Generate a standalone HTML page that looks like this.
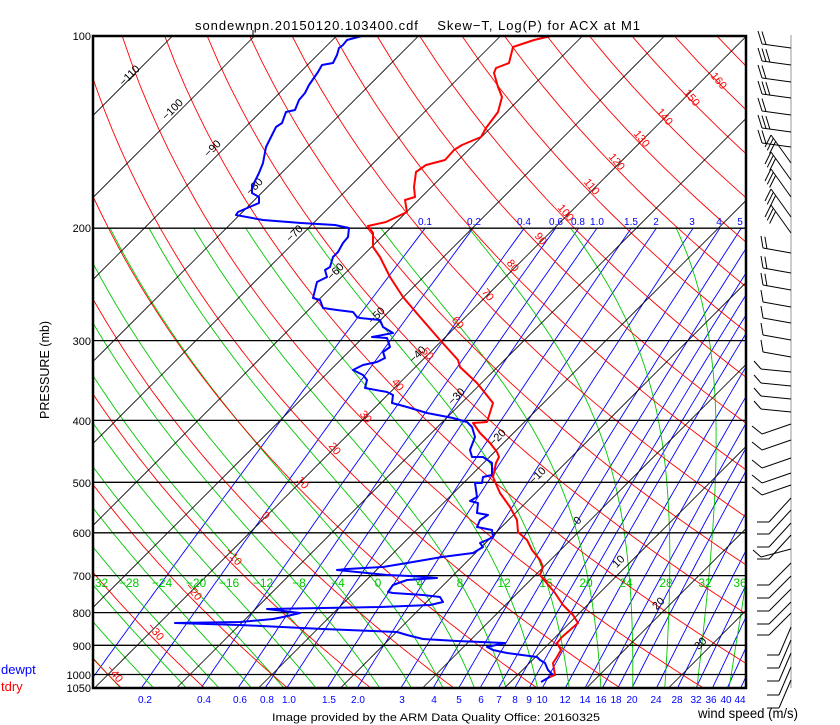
<!DOCTYPE html>
<html><head><meta charset="utf-8">
<style>
html,body{margin:0;padding:0;background:#fff;}
svg{display:block;}
text{font-family:"Liberation Sans",sans-serif;}
</style></head>
<body>
<svg id="s" width="840" height="725" viewBox="0 0 840 725" xmlns="http://www.w3.org/2000/svg">
<defs><clipPath id="cp"><rect x="93" y="36" width="653" height="652"/></clipPath></defs>
<rect width="840" height="725" fill="#fff"/>
<g id="lines" clip-path="url(#cp)"></g>
<g id="labels" clip-path="url(#cp)">
<g font-size="11" fill="#000">
<text transform="translate(132,78) rotate(-45)" text-anchor="middle">−110</text>
<text transform="translate(175,112) rotate(-45)" text-anchor="middle">−100</text>
<text transform="translate(215,151) rotate(-45)" text-anchor="middle">−90</text>
<text transform="translate(257,189) rotate(-45)" text-anchor="middle">−80</text>
<text transform="translate(297,236) rotate(-45)" text-anchor="middle">−70</text>
<text transform="translate(338,274) rotate(-45)" text-anchor="middle">−60</text>
<text transform="translate(379,318) rotate(-45)" text-anchor="middle">−50</text>
<text transform="translate(420,357) rotate(-45)" text-anchor="middle">−40</text>
<text transform="translate(459,399) rotate(-45)" text-anchor="middle">−30</text>
<text transform="translate(500,440) rotate(-45)" text-anchor="middle">−20</text>
<text transform="translate(540,478) rotate(-45)" text-anchor="middle">−10</text>
<text transform="translate(580,523) rotate(-45)" text-anchor="middle">0</text>
<text transform="translate(621,564) rotate(-45)" text-anchor="middle">10</text>
<text transform="translate(661,606) rotate(-45)" text-anchor="middle">20</text>
<text transform="translate(703,646) rotate(-45)" text-anchor="middle">30</text>
</g>
<g font-size="11" fill="#f00">
<text transform="translate(716,83) rotate(50)" text-anchor="middle">160</text>
<text transform="translate(689,100) rotate(50)" text-anchor="middle">150</text>
<text transform="translate(662,119) rotate(50)" text-anchor="middle">140</text>
<text transform="translate(639,141) rotate(50)" text-anchor="middle">130</text>
<text transform="translate(614,164) rotate(50)" text-anchor="middle">120</text>
<text transform="translate(589,189) rotate(50)" text-anchor="middle">110</text>
<text transform="translate(563,215) rotate(50)" text-anchor="middle">100</text>
<text transform="translate(538,241) rotate(50)" text-anchor="middle">90</text>
<text transform="translate(510,268) rotate(50)" text-anchor="middle">80</text>
<text transform="translate(485,297) rotate(50)" text-anchor="middle">70</text>
<text transform="translate(455,325) rotate(50)" text-anchor="middle">60</text>
<text transform="translate(425,356) rotate(50)" text-anchor="middle">50</text>
<text transform="translate(395,387) rotate(50)" text-anchor="middle">40</text>
<text transform="translate(363,419) rotate(50)" text-anchor="middle">30</text>
<text transform="translate(332,451) rotate(50)" text-anchor="middle">20</text>
<text transform="translate(300,485) rotate(50)" text-anchor="middle">10</text>
<text transform="translate(263,518) rotate(50)" text-anchor="middle">0</text>
<text transform="translate(231,559) rotate(50)" text-anchor="middle">−10</text>
<text transform="translate(191,594) rotate(50)" text-anchor="middle">−20</text>
<text transform="translate(153,634) rotate(50)" text-anchor="middle">−30</text>
<text transform="translate(112,676) rotate(50)" text-anchor="middle">−40</text>
</g>
<g font-size="12" fill="#00c800" text-anchor="middle">
<text x="98" y="587">−32</text><text x="129" y="587">−28</text><text x="162" y="587">−24</text>
<text x="196" y="587">−20</text><text x="229" y="587">−16</text><text x="263" y="587">−12</text>
<text x="299" y="587">−8</text><text x="338" y="587">−4</text><text x="378" y="587">0</text>
<text x="420" y="587">4</text><text x="460" y="587">8</text><text x="504" y="587">12</text>
<text x="546" y="587">16</text><text x="586" y="587">20</text><text x="626" y="587">24</text>
<text x="666" y="587">28</text><text x="705" y="587">32</text><text x="740" y="587">36</text>
</g>
<g font-size="10" fill="#00f" text-anchor="middle">
<text x="425" y="225">0.1</text><text x="474" y="225">0.2</text><text x="524" y="225">0.4</text>
<text x="556" y="225">0.6</text><text x="578" y="225">0.8</text><text x="597" y="225">1.0</text>
<text x="631" y="225">1.5</text><text x="656" y="225">2</text><text x="692" y="225">3</text>
<text x="719" y="225">4</text><text x="740" y="225">5</text>
</g>
</g>
<g id="data" clip-path="url(#cp)"></g>
<rect x="93" y="36" width="653" height="652" fill="none" stroke="#000" stroke-width="2.5"/>
<line x1="253" y1="30" x2="253" y2="36" stroke="#000"/>
<g font-size="10" fill="#00f" text-anchor="middle">
<text x="145" y="703">0.2</text><text x="204" y="703">0.4</text><text x="240" y="703">0.6</text>
<text x="267" y="703">0.8</text><text x="289" y="703">1.0</text><text x="329" y="703">1.5</text>
<text x="358" y="703">2.0</text><text x="402" y="703">3</text><text x="434" y="703">4</text>
<text x="459" y="703">5</text><text x="481" y="703">6</text><text x="499" y="703">7</text>
<text x="515" y="703">8</text><text x="529" y="703">9</text><text x="542" y="703">10</text>
<text x="565" y="703">12</text><text x="585" y="703">14</text><text x="601" y="703">16</text>
<text x="616" y="703">18</text><text x="632" y="703">20</text><text x="656" y="703">24</text>
<text x="677" y="703">28</text><text x="696" y="703">32</text><text x="711" y="703">36</text>
<text x="726" y="703">40</text><text x="740" y="703">44</text>
</g>
<g font-size="11" fill="#000" text-anchor="end">
<text x="91" y="40">100</text><text x="91" y="232">200</text><text x="91" y="345">300</text>
<text x="91" y="425">400</text><text x="91" y="487">500</text><text x="91" y="537">600</text>
<text x="91" y="580">700</text><text x="91" y="617">800</text><text x="91" y="650">900</text>
<text x="91" y="679">1000</text><text x="91" y="692">1050</text>
</g>
<text transform="translate(49,370) rotate(-90)" font-size="13" text-anchor="middle" textLength="98" lengthAdjust="spacingAndGlyphs">PRESSURE  (mb)</text>
<text x="195" y="30" font-size="13" textLength="445" lengthAdjust="spacing" xml:space="preserve">sondewnpn.20150120.103400.cdf    Skew−T, Log(P) for ACX at M1</text>
<text x="1" y="674" font-size="13" fill="#00f">dewpt</text>
<text x="1" y="691" font-size="13" fill="#f00">tdry</text>
<text x="272" y="721" font-size="11" textLength="328" lengthAdjust="spacingAndGlyphs">Image provided by the ARM Data Quality Office: 20160325</text>
<text x="698" y="718" font-size="14" textLength="100" lengthAdjust="spacingAndGlyphs">wind speed (m/s)</text>
<line x1="791" y1="35" x2="791" y2="688" stroke="#999" stroke-width="1"/>
<g id="barbs" stroke="#000" stroke-width="1" fill="none"></g>
</svg>
<script>
(function(){
var NS="http://www.w3.org/2000/svg";
function Y(p){return 36+Math.log(p/100)/Math.log(10.5)*652;}
function X(T,p){return 208.5-Y(p)+(T+110)*8.2;}
var L=document.getElementById('lines'),D=document.getElementById('data'),B=document.getElementById('barbs');
function pl(g,pts,col,w){var e=document.createElementNS(NS,'polyline');
 e.setAttribute('points',pts.map(function(q){return q[0].toFixed(1)+','+q[1].toFixed(1)}).join(' '));
 e.setAttribute('fill','none');e.setAttribute('stroke',col);e.setAttribute('stroke-width',w);
 e.setAttribute('stroke-linejoin','round');g.appendChild(e);}
function es(Tc){return 6.112*Math.exp(17.67*Tc/(Tc+243.5));}
var p,pts;
var ws=[0.1,0.2,0.4,0.6,0.8,1,1.5,2,3,4,5,6,7,8,9,10,12,14,16,18,20,24,28,32,36,40,44];
ws.forEach(function(w){pts=[];for(p=200;p<=1050;p+=10){var e=w*p/(622+w);var l=Math.log(e/6.112);var Td=243.5*l/(17.67-l);pts.push([X(Td,p),Y(p)]);}pl(L,pts,'#0000ff',0.9);});
for(var tw=-52;tw<=52;tw+=4){
 var integ=function(dp,pend){var T=tw+273.15,pp=1000,out=[[X(tw,1000),Y(1000)]];
  while((dp<0&&pp>pend)||(dp>0&&pp<pend)){var Tc=T-273.15,e=es(Tc),rs=0.622*e/(pp-e);
   var d=(287*T+2.5e6*rs)/pp/(1004+2.5e6*2.5e6*rs*0.622/(287*T*T));T+=d*dp;pp+=dp;out.push([X(T-273.15,pp),Y(pp)]);}return out;};
 var up=integ(-2,200),dn=integ(2,1050);pts=dn.reverse().concat(up.slice(1));pl(L,pts,'#00c800',0.9);}
for(var th=-60;th<=200;th+=10){pts=[];for(p=100;p<=1050;p+=10){var T=(th+273.15)*Math.pow(p/1000,0.2857)-273.15;pts.push([X(T,p),Y(p)]);}pl(L,pts,'#ff0000',0.9);}
for(var T=-200;T<=60;T+=10){pl(L,[[X(T,100),Y(100)],[X(T,1050),Y(1050)]],'#000',0.8);}
[200,300,400,500,600,700,800,900,1000].forEach(function(p){pl(L,[[93,Y(p)],[746,Y(p)]],'#000',1.3);});
var tdry=[[551,36],[534,40],[513,47],[511,55],[509,63],[496,68],[494,73],[498,87],[502,97],[498,112],[492,120],[486,128],[481,137],[462,145],[454,150],[445,160],[426,165],[416,172],[414,187],[415,197],[405,200],[407,212],[386,222],[368,226],[373,233],[373,247],[380,257],[390,277],[403,297],[420,317],[440,340],[458,360],[460,367],[477,383],[493,403],[487,422],[473,423],[480,433],[490,443],[497,452],[499,457],[496,463],[493,477],[500,493],[510,507],[517,520],[518,532],[527,540],[532,550],[540,560],[543,567],[540,575],[550,587],[555,593],[563,605],[573,615],[578,623],[570,630],[562,637],[557,643],[561,650],[557,657],[553,663],[555,675],[550,677]];
var dew=[[362,36],[347,40],[343,45],[339,48],[337,55],[333,63],[322,65],[318,72],[309,85],[305,93],[299,100],[295,110],[286,112],[282,123],[276,127],[271,137],[266,147],[263,163],[259,173],[252,187],[252,193],[259,197],[259,203],[238,212],[236,215],[263,220],[301,223],[335,225],[349,228],[348,237],[343,243],[338,252],[333,257],[330,267],[325,270],[327,277],[317,282],[315,290],[313,298],[320,300],[323,308],[337,310],[353,312],[357,317],[360,318],[380,320],[383,327],[393,333],[372,337],[387,338],[390,347],[383,352],[385,358],[377,362],[363,365],[353,370],[363,375],[367,380],[365,388],[387,392],[393,395],[392,403],[407,407],[427,413],[453,418],[467,422],[472,427],[475,437],[470,450],[472,457],[483,457],[492,463],[492,475],[483,477],[482,483],[475,483],[477,497],[470,501],[478,503],[477,513],[488,515],[480,520],[477,527],[492,530],[493,537],[487,540],[480,543],[483,547],[473,553],[442,557],[407,563],[383,567],[347,569],[337,570],[387,575],[410,576],[437,578],[407,580],[393,585],[388,592],[393,593],[423,595],[440,597],[443,602],[430,605],[380,607],[267,609],[300,613],[283,617],[273,619],[240,622],[175,623],[240,625],[323,629],[397,632],[407,635],[423,639],[457,641],[505,643],[487,647],[493,650],[507,653],[537,657],[540,660],[545,663],[548,670],[553,675],[541,682]];
pl(D,dew,'#0000ff',2);pl(D,tdry,'#ff0000',2);
function barb(y,dx,dy,tx,ty,n){var ex=791+dx,ey=y+dy;pl(B,[[791,y],[ex,ey]],'#000',1);
 var len=Math.sqrt(dx*dx+dy*dy),ux=-dx/len,uy=-dy/len;
 for(var k=0;k<n;k++){var sx=ex+ux*k*4,sy=ey+uy*k*4;pl(B,[[sx,sy],[sx+tx,sy+ty]],'#000',1);}}
[48,65,82,98,115,132,147].forEach(function(y,i){barb(y,-29,-4,-4,-13,i%2?3:2);});
[163,180,197,217,233].forEach(function(y){barb(y,-20,-28,-6,12,3);});
[253,273,290,307,323,340,357].forEach(function(y,i){barb(y,-28,-5,-2,-12,i<3?2:1);});
[372,386,399,412].forEach(function(y){barb(y,-30,-3,-7,-8,1);});
[424,440,458,473,485].forEach(function(y){barb(y,-29,10,-10,-8,1);});
[498,510,523,535].forEach(function(y){barb(y,-22,24,-12,0,1);});
barb(549,-30,8,-8,-7,1);
[563,576,589,602,613].forEach(function(y){barb(y,-22,22,-12,0,1);});
[627,640,653,667,680].forEach(function(y){barb(y,-12,28,-12,0,1);});
})();
</script>
</body></html>
